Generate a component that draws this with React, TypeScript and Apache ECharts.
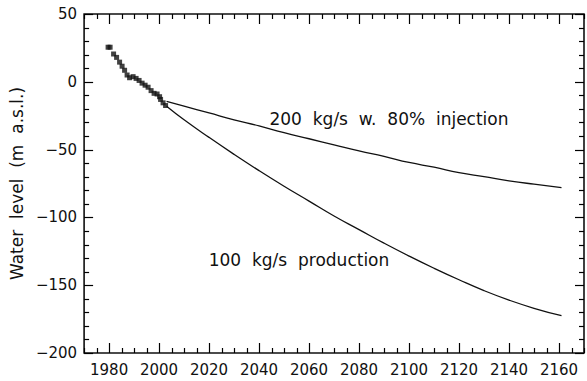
import React, { useEffect, useRef } from "react";
import * as echarts from "echarts";

// Measured water levels
const obsYears = [1979.6, 1980.4, 1981.8, 1983, 1984.2, 1985.2, 1986.2, 1987.2, 1988.2, 1989.6, 1990.8, 1992, 1993.2, 1994.4, 1995.6, 1996.8, 1998, 1999.2, 2000.2, 2000.6, 2001.6, 2002.6];
const obsLevels = [25.5, 25.5, 20.5, 18, 14.5, 11.5, 8.5, 5, 3, 3.8, 2.5, 1, -1, -2.5, -4, -6.5, -8.5, -9, -11, -13, -15.5, -17.5];

// Predicted water levels for two production scenarios
const forecastYears = [2003, 2010, 2020, 2030, 2040, 2050, 2060, 2070, 2080, 2090, 2100, 2110, 2120, 2130, 2140, 2150, 2161];
const injectionLevels = [-14.5, -18, -23, -28, -32.5, -37.5, -42, -46.5, -51, -55, -59.5, -63, -67, -70, -73, -75.5, -78];
const productionLevels = [-18, -28, -41, -53.5, -65.5, -77, -88, -99, -109, -119, -128.5, -137.5, -146, -154, -161, -167, -172.5];

// Tick positions
const majorYearTicks = [1980, 2000, 2020, 2040, 2060, 2080, 2100, 2120, 2140, 2160];
const minorYearTicks = [1970, 1975, 1985, 1990, 1995, 2005, 2010, 2015, 2025, 2030, 2035, 2045, 2050, 2055, 2065, 2070, 2075, 2085, 2090, 2095, 2105, 2110, 2115, 2125, 2130, 2135, 2145, 2150, 2155, 2165, 2170];
const majorLevelTicks = [-200, -150, -100, -50, 0, 50];
const minorLevelTicks = [-190, -180, -170, -160, -140, -130, -120, -110, -90, -80, -70, -60, -40, -30, -20, -10, 10, 20, 30, 40];

const injectionLabel = "200  kg/s  w.  80%  injection";
const productionLabel = "100  kg/s  production";
const yAxisTitle = "Water  level  (m  a.s.l.)";

const X_MIN = 1970;
const X_MAX = 2170;
const Y_MIN = -200;
const Y_MAX = 50;

const FONT = "DejaVu Sans";
const INK = "#111";

// kind: 0 = major year, 1 = minor year, 2 = major level, 3 = minor level
type Tick = { x: number; y: number; kind: number };
const ticks: Tick[] = [
  ...majorYearTicks.map((v) => ({ x: v, y: Y_MIN, kind: 0 })),
  ...minorYearTicks.map((v) => ({ x: v, y: Y_MIN, kind: 1 })),
  ...majorLevelTicks.map((v) => ({ x: X_MIN, y: v, kind: 2 })),
  ...minorLevelTicks.map((v) => ({ x: X_MIN, y: v, kind: 3 })),
];

export default function App() {
  const ref = useRef<HTMLDivElement>(null);

  useEffect(() => {
    if (!ref.current) return;
    const chart = echarts.init(ref.current, null, { renderer: "svg" });

    chart.setOption({
      animation: false,
      backgroundColor: "#fff",
      grid: {
        left: 84,
        right: 3,
        top: 14,
        bottom: 28,
        containLabel: false,
        show: true,
        borderColor: INK,
        borderWidth: 1.6,
      },
      xAxis: {
        type: "value",
        min: X_MIN,
        max: X_MAX,
        interval: 5,
        splitLine: { show: false },
        axisLine: { show: false, onZero: false },
        axisTick: { show: false },
        axisLabel: {
          interval: 0,
          margin: 9,
          color: INK,
          fontFamily: FONT,
          fontSize: 15,
          formatter: (v: number) => (majorYearTicks.includes(v) ? String(v) : ""),
        },
      },
      yAxis: {
        type: "value",
        min: Y_MIN,
        max: Y_MAX,
        interval: 50,
        name: yAxisTitle,
        nameLocation: "middle",
        nameGap: 56,
        nameTextStyle: { color: INK, fontFamily: FONT, fontSize: 17 },
        splitLine: { show: false },
        axisLine: { show: false, onZero: false },
        axisTick: { show: false },
        axisLabel: {
          margin: 7,
          color: INK,
          fontFamily: FONT,
          fontSize: 15,
          formatter: (v: number) => (v < 0 ? "\u2212" + Math.abs(v) : String(v)),
        },
      },
      series: [
        {
          // inward tick marks on all four sides of the frame
          type: "custom",
          encode: { x: 0, y: 1 },
          data: ticks.map((t) => [t.x, t.y]),
          renderItem: (params: any, api: any) => {
            const t = ticks[params.dataIndex];
            const pt = api.coord([t.x, t.y]);
            const lowerLeft = api.coord([X_MIN, Y_MIN]);
            const upperRight = api.coord([X_MAX, Y_MAX]);
            const left = lowerLeft[0];
            const bottom = lowerLeft[1];
            const right = upperRight[0];
            const top = upperRight[1];
            const style = { stroke: "#000", lineWidth: 1.2 };
            if (t.kind < 2) {
              const len = t.kind === 0 ? 10 : 5;
              const px = Math.round(pt[0]) + 0.5;
              return {
                type: "group",
                children: [
                  { type: "line", shape: { x1: px, y1: bottom, x2: px, y2: bottom - len }, style },
                  { type: "line", shape: { x1: px, y1: top, x2: px, y2: top + len }, style },
                ],
              };
            }
            const len = t.kind === 2 ? 9 : 5;
            const py = Math.round(pt[1]) + 0.5;
            return {
              type: "group",
              children: [
                { type: "line", shape: { x1: left, y1: py, x2: left + len, y2: py }, style },
                { type: "line", shape: { x1: right, y1: py, x2: right - len, y2: py }, style },
              ],
            };
          },
        },
        {
          type: "scatter",
          symbol: "rect",
          symbolSize: 5,
          itemStyle: { color: INK },
          data: obsYears.map((y, i) => [y, obsLevels[i]]),
        },
        {
          type: "line",
          smooth: true,
          showSymbol: false,
          lineStyle: { color: INK, width: 1.3 },
          data: forecastYears.map((y, i) => [y, injectionLevels[i]]),
        },
        {
          type: "line",
          smooth: true,
          showSymbol: false,
          lineStyle: { color: INK, width: 1.3 },
          data: forecastYears.map((y, i) => [y, productionLevels[i]]),
        },
      ],
      graphic: [
        {
          type: "text",
          x: 389,
          y: 119,
          style: {
            text: injectionLabel,
            fill: INK,
            font: `17px "${FONT}"`,
            align: "center",
            verticalAlign: "middle",
          },
        },
        {
          type: "text",
          x: 299,
          y: 260,
          style: {
            text: productionLabel,
            fill: INK,
            font: `17px "${FONT}"`,
            align: "center",
            verticalAlign: "middle",
          },
        },
      ],
    });

    return () => chart.dispose();
  }, []);

  return (
    <div
      ref={ref}
      style={{ position: "fixed", left: 0, top: 0, width: 587, height: 381, background: "#fff" }}
    />
  );
}
